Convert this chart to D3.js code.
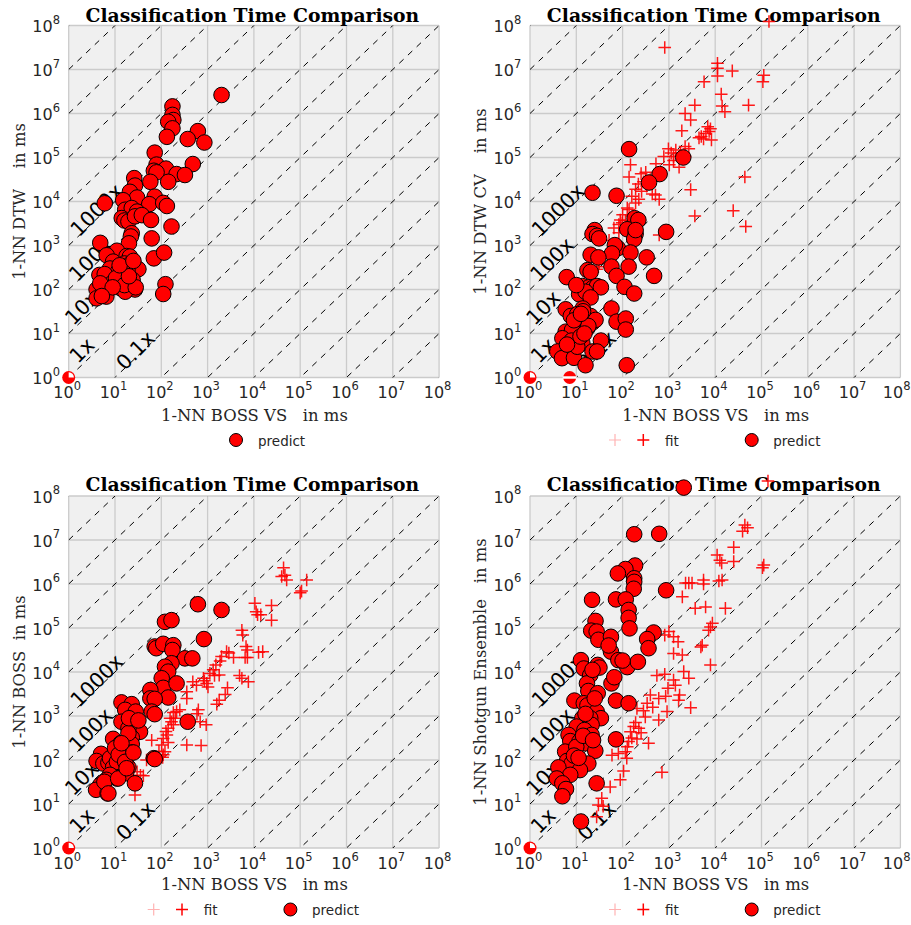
<!DOCTYPE html>
<html><head><meta charset="utf-8">
<script src="https://cdn.jsdelivr.net/npm/d3@7"></script>
<style>body{margin:0;background:#fff}svg{display:block}</style>
</head><body>
<svg id="chart" width="911" height="925"></svg>
<script>
// ---------------- DATA ----------------
const titleText = "Classification Time Comparison";
const xLabelText = "1-NN BOSS VS   in ms";
const yLabels = ["1-NN DTW    in ms", "1-NN DTW CV    in ms", "1-NN BOSS  in ms", "1-NN Shotgun Ensemble   in ms"];
const tickExponents = [0, 1, 2, 3, 4, 5, 6, 7, 8];
const ratioExponents = [-8, -7, -6, -5, -4, -3, -2, -1, 0, 1, 2, 3, 4, 5, 6, 7, 8];
const ratioLabels = ["1000x", "100x", "10x", "1x", "0.1x"];
const ratioLabelX = [3.98, 2.95, 1.91, 1.91, 27.5];     // anchor in data units
const ratioLabelY = [6460, 490, 38.9, 4.17, 4.17];

// times in ms: [BOSS VS, other]
const dtwPredict = [[2000,2.63e6],[174,1.45e6],[174,9.3e5],[182,7.1e5],[141,6.5e5],[174,4.6e5],[132,2.95e5],[617,3.98e5],[372,2.63e5],[851,2.19e5],
[72,1.29e5],[79,6.9e4],[479,7.1e4],[126,5.6e4],[69,5.0e4],[79,4.6e4],[214,4.2e4],[324,4.0e4],[141,2.8e4],[58,2.8e4],
[26,3.4e4],[27,2.3e4],[21,1.66e4],[30,1.23e4],[72,1.29e4],[15,1.07e4],[55,8700],[110,9300],[132,7900],[6.0,9100],
[16.6,6500],[23,7100],[30,5900],[14,4200],[16,3700],[19.5,3500],[27,4600],[38,4900],[60,3800],[166,2700],
[23,1900],[22,1600],[62,1450],[4.8,1150],[20,1120],[11,760],[6.6,600],[17.8,575],[21,560],[9.1,430],
[16,390],[22,390],[32,290],[69,510],[115,690],[7.8,300],[11.7,257],[18.6,275],[4.6,214],[6.0,224],
[16,182],[24,166],[8.5,138],[4.0,100],[13.2,107],[27,100],[7.2,100],[16.6,89],[6.5,69],[4.0,63],
[123,132],[110,79],[10.5,182],[4.8,138],[16,126],[28,112],[8.9,112],[20,200],[12.6,355],[25,447],[5.2,71]];
const dtwEdge = [[1,1]];

const dtwcvFit = [[1.45e5,1.23e8],[813,3.16e7],[1.12e4,1.38e7],[1.12e4,1.07e7],[2.34e4,9.3e6],[1.12e4,7.1e6],[5750,5.25e6],[1.12e5,7.4e6],[1.07e5,5.25e6],[1.35e4,2.75e6],
[3630,1.55e6],[5.25e4,1.55e6],[1.41e4,1.48e6],[1.62e4,1.1e6],[2240,1.0e6],[2950,7.1e5],[1900,4.07e5],[6900,5.0e5],[7400,3.9e5],[6300,3.5e5],
[5000,3.0e5],[5600,2.63e5],[8300,2.5e5],[977,1.58e5],[1410,1.48e5],[776,1.05e5],[1260,1.05e5],[1780,1.26e5],[2690,1.58e5],[2240,1.07e5],
[1260,8.5e4],[1660,6.0e4],[148,6.8e4],[138,3.6e4],[251,4.3e4],[316,4.6e4],[525,7.2e4],[1020,6.8e4],[219,2.5e4],[191,1.9e4],
[257,1.7e4],[437,1.48e4],[513,1.41e4],[617,1.12e4],[2950,1.86e4],[4.37e4,3.6e4],[158,1.32e4],[191,9300],[138,6600],[162,4700],
[115,3630],[98,3300],[83,3000],[65,2500],[83,1950],[100,5000],[126,7100],[3630,4700],[2.45e4,6200],[4.57e4,2700],
[617,1740],[51,1320],[35.5,562],[31,398],[30,331],[27.5,288],[282,2.8e4],[398,3.16e4],[331,2.24e4],[1120,1.26e5],
[2240,1.78e5],[224,1.12e4],[89,3800],[4470,2.8e5],[7900,4.5e5]];
const dtwcvPredict = [[138,1.55e5],[2040,1.0e5],[631,4.2e4],[372,2.7e4],[22.4,1.58e4],[74,1.35e4],[182,4170],[219,3800],[871,2040],[126,2340],
[191,1820],[178,1410],[191,2240],[25,2240],[22.4,1820],[28,1660],[31,1450],[79,871],[68,1020],[59,661],
[148,692],[20.4,617],[30,537],[331,537],[57.5,331],[135,331],[74,204],[479,204],[17.4,275],[20.4,251],
[6.2,191],[13.5,120],[18.6,112],[22.4,107],[28,120],[34,112],[11.5,78],[15.8,89],[20.4,66],[110,115],
[178,81],[5.9,35.5],[7.6,25],[13.8,37],[10.5,27.5],[12.3,18.6],[17.4,21.9],[20.4,25],[22.4,17.8],[26,20.4],
[17.4,13.2],[18.2,14.8],[57.5,37],[74,18.6],[117,21.9],[117,12.3],[5.9,11],[8.1,12],[5.0,7.8],[7.9,6.9],
[13.5,6.0],[34,6.9],[22.4,3.9],[28,3.9],[3.9,3.9],[6.9,3.9],[4.9,2.75],[8.9,2.8],[15.8,1.9],[123,1.9],
[10.5,5.0],[12.3,8.5],[14,32],[8.9,20],[12.6,28],[15,10],[6.3,5.6],[10,126]];
const dtwcvEdge = [[1,1],[7.2,1]];

const bossFit = [[4.37e4,2.34e6],[4.68e4,1.58e6],[3.98e4,1.48e6],[5.1e4,1.23e6],[1.38e5,1.23e6],[1.07e5,6.9e5],[1.0e5,6.3e5],[1.05e4,3.63e5],[2.4e4,3.24e5],[1.12e4,2.34e5],
[1.2e4,2.0e5],[1.41e4,2.0e5],[2.4e4,1.51e5],[5500,8.9e4],[5750,6.9e4],[6760,3.8e4],[7240,3.16e4],[1.55e4,2.9e4],[1.26e4,2.8e4],[6460,2.14e4],
[7240,2.14e4],[2570,2.9e4],[2880,2.7e4],[3630,2.14e4],[2000,2.24e4],[1860,1.78e4],[1510,1.45e4],[1320,1.12e4],[1120,9300],[1410,8300],
[1780,8500],[813,7200],[955,5500],[1020,4570],[851,6300],[479,6000],[575,5000],[355,3550],[355,2510],[4900,8300],
[5500,7200],[7600,6000],[2690,4370],[2400,3090],[1780,2290],[1580,1860],[251,1380],[214,1260],[182,1200],[631,1380],
[589,1120],[692,741],[933,631],[155,891],[166,741],[141,525],[132,372],[110,309],[102,219],[120,155],
[110,132],[107,115],[182,631],[62,282],[141,251],[355,219],[724,214],[62,110],[48,100],[30,54],
[41,44],[35.5,45],[27,16],[126,447],[200,891],[89,158]];
const bossPredict = [[617,3.47e5],[2000,2.57e5],[120,1.38e5],[166,1.51e5],[832,5.6e4],[72,3.8e4],[78,3.47e4],[110,4.37e4],[182,4.07e4],[174,3.16e4],
[324,2.04e4],[468,2.04e4],[166,1.58e4],[120,1.32e4],[141,1.02e4],[102,7200],[110,4370],[214,5500],[141,2630],[58,3900],
[58,2510],[72,2450],[62,1260],[72,1100],[13.8,2040],[23,1860],[16.6,1380],[27,1050],[23,741],[29.5,575],
[34.7,437],[13.8,741],[19.5,525],[9.1,302],[13.2,240],[23,324],[23,229],[19.5,407],[15.8,138],[23,148],
[10.5,186],[12.9,129],[5.0,138],[4.0,95],[5.6,83],[7.2,87],[7.8,110],[9.1,68],[11,91],[19.5,68],
[17.4,50],[11,38],[7.8,46],[6.5,35.5],[4.8,27],[3.9,21],[6.9,17.4],[27,29.5],[69,110],[372,741],
[10,186],[12,132],[16.6,91],[5.9,32],[11.7,38],[7.2,17.4],[17.8,65],[25,148],[13.8,240],[72,105],
[28,1260],[20,891],[32,794]];
const bossEdge = [[1,1]];

const shotgunFit = [[1.38e5,2.19e8],[4.37e4,2.19e7],[5.0e4,1.9e7],[3.9e4,1.58e7],[1.12e5,2.69e6],[1.05e5,2.34e6],[2.51e4,6.8e6],[1.1e4,4.57e6],[1.26e4,3.47e6],[1.38e4,3.0e6],
[2.51e4,3.24e6],[1.41e4,1.23e6],[1.2e4,1.17e6],[5600,1.23e6],[5600,1.0e6],[2290,1.05e6],[2690,1.05e6],[3160,1.05e6],[1950,5.1e5],[3700,2.8e5],
[6200,3.0e5],[1.66e4,2.8e5],[8700,1.29e5],[7200,8.9e4],[7900,1.05e5],[5250,4.07e4],[4900,3.7e4],[7900,1.45e4],[1000,8.3e4],[813,6.9e4],
[1260,6.3e4],[1580,4.9e4],[1260,2.63e4],[1950,2.45e4],[2090,1.02e4],[2690,7200],[550,8300],[813,8900],[1260,6600],[1380,5000],
[955,4270],[1700,3000],[1620,2290],[398,3000],[603,2510],[851,2820],[339,1950],[204,1480],[2950,1550],[912,1260],
[603,813],[309,955],[174,575],[224,525],[148,437],[251,417],[363,240],[204,302],[135,263],[81,141],
[115,155],[123,110],[59,129],[708,52.5],[105,56],[89,35.5],[54,24.5],[35.5,13.5],[30,9.5],[38,8.9],
[27.5,5.1],[158,316],[191,708],[282,1320],[447,1580],[126,200]];
const shotgunPredict = [[2090,1.55e8],[178,1.35e7],[617,1.38e7],[186,2.63e6],[115,2.19e6],[79,1.74e6],[178,1.35e6],[178,1.12e6],[174,7.8e5],[871,7.2e5],
[21.9,4.37e5],[72,4.47e5],[117,4.47e5],[135,2.57e5],[135,1.7e5],[141,9.8e4],[26,1.45e5],[21,8.7e4],[27.5,8.3e4],[30,5.4e4],
[468,7.9e4],[339,5.6e4],[363,3.47e4],[56,6.3e4],[56,2.9e4],[81,1.86e4],[126,1.29e4],[214,1.7e4],[100,1.82e4],[12.6,1.86e4],
[14.5,1.2e4],[20,8500],[29,1.45e4],[57.5,5500],[66,7600],[17,5500],[18.2,3700],[29,3300],[72,2240],[135,1950],
[9.1,2240],[14.5,1950],[17.4,1740],[27.5,1260],[34,891],[13.5,891],[20,891],[21.4,631],[10.2,575],[15,479],
[21.4,372],[6.8,372],[7.4,269],[11.7,263],[15.8,240],[25.7,162],[5.75,155],[72,295],[6.3,95],[7.9,83],
[18.2,83],[4.1,68],[12,59],[7.4,46],[3.8,38],[5.0,29.5],[6.0,21.9],[5.0,15],[27.5,29.5],[12.6,4.0],
[10,200],[14,355],[8.9,126],[11.2,112],[23,282],[15.8,1120],[25,2510],[31.6,1.26e4],[50,4e4],[22.4,1.12e4]];
const shotgunEdge = [[1,1]];

const legendFit = "fit";
const legendPredict = "predict";

// ---------------- LAYOUT ----------------
const panels = [
  {ylab: yLabels[0], fit: null, predict: dtwPredict, edge: dtwEdge, x0: 68.7, x1: 439.1, yT: 25.5, yB: 377.5, titleY: 21.5, xlabY: 420.7, legY: 440},
  {ylab: yLabels[1], fit: dtwcvFit, predict: dtwcvPredict, edge: dtwcvEdge, x0: 530, x1: 900.4, yT: 25.5, yB: 377.5, titleY: 21.5, xlabY: 420.7, legY: 440},
  {ylab: yLabels[2], fit: bossFit, predict: bossPredict, edge: bossEdge, x0: 68.7, x1: 439.1, yT: 496, yB: 848, titleY: 490.5, xlabY: 890, legY: 909.5},
  {ylab: yLabels[3], fit: shotgunFit, predict: shotgunPredict, edge: shotgunEdge, x0: 530, x1: 900.4, yT: 496, yB: 848, titleY: 490.5, xlabY: 890, legY: 909.5}
];

const svg = d3.select("#chart");
const SERIF = "'DejaVu Serif', serif";
const SANS = "'DejaVu Sans', sans-serif";
const RED = "#ff0000";
const W = 911;

function fitFont(sel, base, target) {
  const w = sel.node().getComputedTextLength();
  sel.attr("font-size", base * target / w);
  return base * target / w;
}
function cross(sel, s) {
  return sel.attr("d", `M${-s},0H${s}M0,${-s}V${s}`);
}

let labelFont = null;

panels.forEach((p, i) => {
  const g = svg.append("g");
  const x = d3.scaleLog().domain([1, 1e8]).range([p.x0, p.x1]);
  const y = d3.scaleLog().domain([1, 1e8]).range([p.yB, p.yT]);
  const cx = (p.x0 + p.x1) / 2;

  // background
  g.append("rect").attr("x", x(1)).attr("y", y(1e8)).attr("width", x(1e8) - x(1)).attr("height", y(1) - y(1e8)).attr("fill", "#f0f0f0");

  // grid
  g.selectAll(".gv").data(tickExponents).join("line")
    .attr("x1", d => x(Math.pow(10, d))).attr("x2", d => x(Math.pow(10, d)))
    .attr("y1", y(1e8)).attr("y2", y(1)).attr("stroke", "#cbcbcb").attr("stroke-width", 1.3);
  g.selectAll(".gh").data(tickExponents).join("line")
    .attr("y1", d => y(Math.pow(10, d))).attr("y2", d => y(Math.pow(10, d)))
    .attr("x1", x(1)).attr("x2", x(1e8)).attr("stroke", "#cbcbcb").attr("stroke-width", 1.3);

  // diagonal ratio lines
  const clipId = "clip" + i;
  svg.append("clipPath").attr("id", clipId).append("rect")
    .attr("x", x(1)).attr("y", y(1e8)).attr("width", x(1e8) - x(1)).attr("height", y(1) - y(1e8));
  g.append("g").attr("clip-path", `url(#${clipId})`)
    .selectAll("line").data(ratioExponents).join("line")
    .attr("x1", x(1)).attr("y1", d => y(Math.pow(10, d)))
    .attr("x2", x(1e8)).attr("y2", d => y(Math.pow(10, d + 8)))
    .attr("stroke", "#000").attr("stroke-width", 1).attr("stroke-dasharray", "6,6");

  // ratio labels
  g.selectAll(".rl").data(ratioLabels).join("text")
    .attr("transform", (d, k) => `translate(${x(ratioLabelX[k])},${y(ratioLabelY[k])}) rotate(-45)`)
    .attr("text-anchor", "middle").attr("dy", "0.36em")
    .attr("font-family", SANS).attr("font-size", 20.5).attr("fill", "#000")
    .text(d => d);

  // tick labels x
  g.selectAll(".xt").data(tickExponents).join("text")
    .attr("x", d => x(Math.pow(10, d)) - 1.5).attr("y", p.yB + 20.8)
    .attr("text-anchor", "middle").attr("font-family", SANS).attr("fill", "#262626")
    .each(function (d) {
      const t = d3.select(this);
      t.append("tspan").attr("font-size", 16).text("10");
      t.append("tspan").attr("font-size", 11.5).attr("dy", -8.3).text(d);
      const bb = this.getBBox();
      if (bb.x + bb.width > W - 0.5) t.attr("x", +t.attr("x") - (bb.x + bb.width - (W - 0.5)));
    });
  // tick labels y
  g.selectAll(".yt").data(tickExponents).join("text")
    .attr("x", p.x0 - 8.7).attr("y", d => y(Math.pow(10, d)) + 6.7)
    .attr("text-anchor", "end").attr("font-family", SANS).attr("fill", "#262626")
    .each(function (d) {
      const t = d3.select(this);
      t.append("tspan").attr("font-size", 16).text("10");
      t.append("tspan").attr("font-size", 11.5).attr("dy", -8.3).text(d);
    });

  // title
  const tt = g.append("text").attr("x", cx - 1.5).attr("y", p.titleY).attr("text-anchor", "middle")
    .attr("font-family", SERIF).attr("font-weight", "bold").attr("font-size", 17).attr("fill", "#000").text(titleText);
  fitFont(tt, 17, 334);

  // x label
  const xl = g.append("text").attr("x", cx + 0.5).attr("y", p.xlabY).attr("text-anchor", "middle")
    .attr("xml:space", "preserve").style("white-space", "pre")
    .attr("font-family", SERIF).attr("font-size", 16).attr("fill", "#262626").text(xLabelText);
  const f = fitFont(xl, 16, 187);
  if (labelFont === null) labelFont = f;

  // y label
  g.append("text").attr("transform", `translate(${p.x0 - 44.2},${(p.yT + p.yB) / 2}) rotate(-90)`)
    .attr("text-anchor", "middle").attr("xml:space", "preserve").style("white-space", "pre")
    .attr("font-family", SERIF).attr("font-size", labelFont).attr("fill", "#262626").text(p.ylab);

  // fit markers (crosses)
  if (p.fit) {
    g.append("g").selectAll("path").data(p.fit).join("path")
      .attr("transform", d => `translate(${x(d[0])},${y(d[1])})`)
      .call(cross, 6.3)
      .attr("fill", "none").attr("stroke", RED).attr("stroke-width", 1.5).attr("stroke-opacity", 0.9);
  }
  // predict markers (circles)
  g.append("g").selectAll("circle").data(p.predict).join("circle")
    .attr("cx", d => x(d[0])).attr("cy", d => y(d[1])).attr("r", 7.8)
    .attr("fill", RED).attr("stroke", "#000").attr("stroke-width", 1);

  // edge points (on the axis boundary)
  const eg = g.append("g");
  p.edge.forEach(d => {
    const px = x(d[0]), py = y(d[1]);
    eg.append("circle").attr("cx", px).attr("cy", py).attr("r", 6.5).attr("fill", RED);
    if (d[0] === 1) {
      eg.append("path").attr("transform", `translate(${px},${py})`)
        .attr("d", d3.arc()({innerRadius: 0, outerRadius: 5.2, startAngle: 0, endAngle: Math.PI / 2}))
        .attr("fill", "#fff");
    } else {
      eg.append("line").attr("x1", px - 7).attr("x2", px + 7).attr("y1", py).attr("y2", py)
        .attr("stroke", "#fff").attr("stroke-width", 2.5);
    }
  });

  // legend
  const lg = g.append("g");
  if (p.fit) {
    lg.append("path").attr("transform", `translate(${cx - 100.2},${p.legY})`).call(cross, 6)
      .attr("stroke", RED).attr("stroke-opacity", 0.3).attr("stroke-width", 1.2).attr("fill", "none");
    lg.append("path").attr("transform", `translate(${cx - 71.9},${p.legY})`).call(cross, 6)
      .attr("stroke", RED).attr("stroke-width", 1.5).attr("fill", "none");
    lg.append("text").attr("x", cx - 50.2).attr("y", p.legY + 5.5).attr("font-family", SANS).attr("font-size", 13.5)
      .attr("fill", "#262626").text(legendFit);
    lg.append("circle").attr("cx", cx + 36.5).attr("cy", p.legY).attr("r", 6.5).attr("fill", RED).attr("stroke", "#000");
    lg.append("text").attr("x", cx + 58.1).attr("y", p.legY + 5.5).attr("font-family", SANS).attr("font-size", 13.5)
      .attr("fill", "#262626").text(legendPredict);
  } else {
    lg.append("circle").attr("cx", cx - 17.9).attr("cy", p.legY).attr("r", 6.5).attr("fill", RED).attr("stroke", "#000");
    lg.append("text").attr("x", cx + 4.1).attr("y", p.legY + 5.5).attr("font-family", SANS).attr("font-size", 13.5)
      .attr("fill", "#262626").text(legendPredict);
  }
});
</script>
</body></html>
